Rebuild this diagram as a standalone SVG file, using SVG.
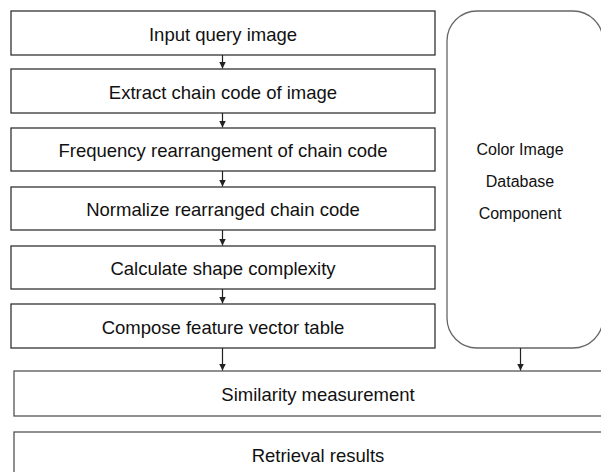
<svg xmlns="http://www.w3.org/2000/svg" width="601" height="472" viewBox="0 0 601 472">
  <defs>
    <marker id="arrow" markerWidth="8" markerHeight="8" refX="7" refY="4" orient="auto" markerUnits="userSpaceOnUse" viewBox="0 0 8 8">
      <path d="M0,0.5 L7,4 L0,7.5 Z" fill="#222"/>
    </marker>
  </defs>
  <style>
    .box { fill: #fff; stroke: #333; stroke-width: 1.3; }
    .box2 { fill: #fff; stroke: #555; stroke-width: 1.3; }
    .db { fill: #fff; stroke: #666; stroke-width: 1.3; }
    .lbl { font-family: "Liberation Sans", Arial, sans-serif; font-size: 18.5px; fill: #111; text-anchor: middle; }
    .lbl2 { font-family: "Liberation Sans", Arial, sans-serif; font-size: 16px; fill: #111; text-anchor: middle; }
    .conn { stroke: #222; stroke-width: 1.2; fill: none; marker-end: url(#arrow); }
  </style>
  <rect width="601" height="472" fill="#fff"/>

  <g id="input">
    <rect class="box" x="11" y="11" width="424" height="44"/>
    <text class="lbl" x="223" y="41">Input query image</text>
  </g>
  <g id="extract">
    <rect class="box" x="11" y="69" width="424" height="44"/>
    <text class="lbl" x="223" y="99">Extract chain code of image</text>
  </g>
  <g id="frequency">
    <rect class="box" x="11" y="128" width="424" height="43"/>
    <text class="lbl" x="223" y="157">Frequency rearrangement of chain code</text>
  </g>
  <g id="normalize">
    <rect class="box" x="11" y="187" width="424" height="43"/>
    <text class="lbl" x="223" y="216">Normalize rearranged chain code</text>
  </g>
  <g id="complexity">
    <rect class="box" x="11" y="246" width="424" height="43"/>
    <text class="lbl" x="223" y="275">Calculate shape complexity</text>
  </g>
  <g id="compose">
    <rect class="box" x="11" y="304" width="424" height="44"/>
    <text class="lbl" x="223" y="334">Compose feature vector table</text>
  </g>
  <g id="database">
    <rect class="db" x="447" y="11" width="156" height="337" rx="30" ry="30"/>
    <text class="lbl2" x="520" y="155">Color Image</text>
    <text class="lbl2" x="520" y="187">Database</text>
    <text class="lbl2" x="520" y="219">Component</text>
  </g>
  <g id="similarity">
    <rect class="box2" x="14" y="371" width="610" height="45"/>
    <text class="lbl" x="318" y="401">Similarity measurement</text>
  </g>
  <g id="retrieval">
    <rect class="box2" x="14" y="432" width="610" height="60"/>
    <text class="lbl" x="318" y="462">Retrieval results</text>
  </g>

  <g id="connectors">
    <line class="conn" x1="222.5" y1="55" x2="222.5" y2="68.5"/>
    <line class="conn" x1="222.5" y1="113" x2="222.5" y2="127.5"/>
    <line class="conn" x1="222.5" y1="171" x2="222.5" y2="186.5"/>
    <line class="conn" x1="222.5" y1="230" x2="222.5" y2="245.5"/>
    <line class="conn" x1="222.5" y1="289" x2="222.5" y2="303.5"/>
    <line class="conn" x1="222.5" y1="348" x2="222.5" y2="370.5"/>
    <line class="conn" x1="520.5" y1="348" x2="520.5" y2="370.5"/>
  </g>
</svg>
